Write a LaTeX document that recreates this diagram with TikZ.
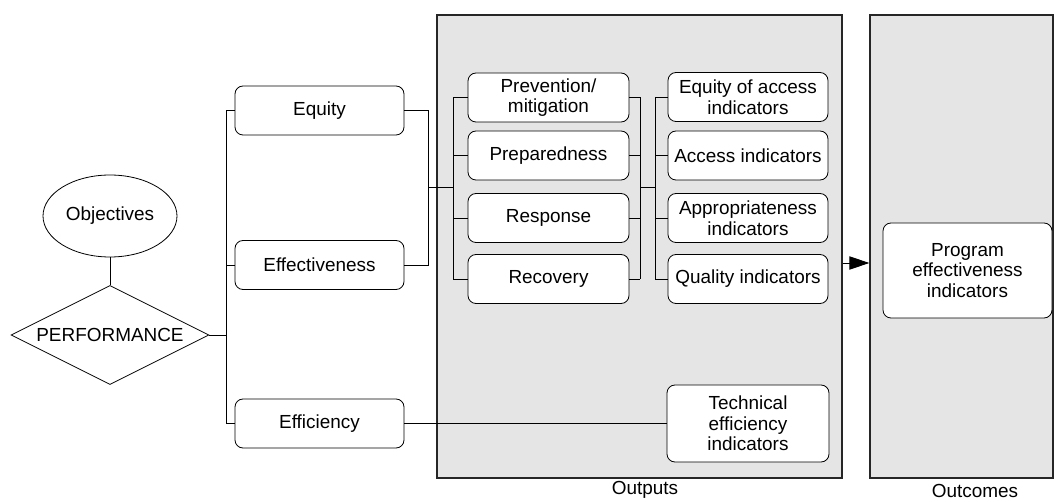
\documentclass[tikz,border=0pt]{standalone}
\usepackage{fontspec}
\setmainfont{Liberation Sans}
\usetikzlibrary{shapes.geometric,arrows.meta}

\begin{document}
\begin{tikzpicture}[x=0.75pt,y=-0.75pt,
    font=\fontsize{14.2}{15.5}\selectfont,
    box/.style={draw=black,line width=0.6pt,rounded corners=6pt,fill=white,
      minimum width=126.75pt,minimum height=36.75pt,align=center,inner sep=1pt},
    stagebox/.style={box,minimum width=120.75pt},
    indbox/.style={box,minimum width=120pt},
    panel/.style={draw=black!85,line width=1pt,fill=black!10,
      minimum height=347.25pt,inner sep=0pt},
    wire/.style={draw=black,line width=0.7pt}]

      \useasboundingbox (0,0) rectangle (1054,502);

      % the two grey panels
      \node[panel,minimum width=303.75pt] (outputs) at (639.5,246.5){};
      \node[panel,minimum width=137.25pt] (outcomes) at (961.5,246.5){};
      \node[] (outlab) at (645,490){Outputs};
      \node[] (outclab) at (975,491){Outcomes};

      \node[ellipse,draw=black,line width=0.6pt,minimum width=100.5pt,minimum height=61.5pt,inner sep=0pt] (obj) at (110,216){Objectives};
      \node[diamond,draw=black,line width=0.6pt,aspect=2,minimum width=148.5pt,minimum height=74.25pt,inner sep=0pt] (perf) at (110,335){PERFORMANCE};

      \node[box] (equity) at (319.5,110.5){Equity};
      \node[box] (effect) at (319.5,265){Effectiveness};
      \node[box] (effic) at (319.5,423.5){Efficiency};

      \node[stagebox] (prev) at (548.5,97.5){Prevention/\\mitigation};
      \node[stagebox] (prep) at (548.5,155.5){Preparedness};
      \node[stagebox] (resp) at (548.5,218){Response};
      \node[stagebox] (recov) at (548.5,279){Recovery};

      \node[indbox] (eqacc) at (748,97){Equity of access\\indicators};
      \node[indbox] (acc) at (748,155.5){Access indicators};
      \node[indbox] (appr) at (748,218){Appropriateness\\indicators};
      \node[indbox] (qual) at (748,279){Quality indicators};

      \node[box,minimum width=121.5pt,minimum height=57.75pt] (tech) at (748,423.5){Technical\\efficiency\\indicators};
      \node[box,minimum height=71.25pt] (prog) at (967.5,270.5){Program\\effectiveness\\indicators};

      \coordinate (lbus) at (226,335);
      \coordinate (rbus) at (428,187);
      \coordinate (sbus) at (453,187);
      \coordinate (tbus) at (640,187);
      \coordinate (ibus) at (655,187);

      \draw[wire] (obj) -- (perf);
      \draw[wire] (perf.east) -- (lbus);
      \draw[wire] (lbus |- equity) -- (lbus |- effic);
      \foreach \n in {equity,effect,effic}
        \draw[wire] (lbus |- \n) -- (\n.west);

      \draw[wire] (equity.east) -| (rbus);
      \draw[wire] (effect.east) -| (rbus);
      \draw[wire] (rbus) -- (sbus);
      \draw[wire] (sbus |- prev) -- (sbus |- recov);
      \draw[wire] (tbus |- prev) -- (tbus |- recov);
      \foreach \s in {prev,prep,resp,recov}{
        \draw[wire] (sbus |- \s) -- (\s.west);
        \draw[wire] (\s.east) -- (tbus |- \s);
      }
      \draw[wire] (tbus) -- (ibus);
      \draw[wire] (ibus |- eqacc) -- (ibus |- qual);
      \foreach \i in {eqacc,acc,appr,qual}
        \draw[wire] (ibus |- \i) -- (\i.west);

      \draw[wire] (effic.east) -- (tech.west);

      \draw[wire,-{Triangle[length=15pt,width=10pt]}] (outputs.east |- 0,263) -- (outcomes.west |- 0,263);
    \end{tikzpicture}
\end{document}
